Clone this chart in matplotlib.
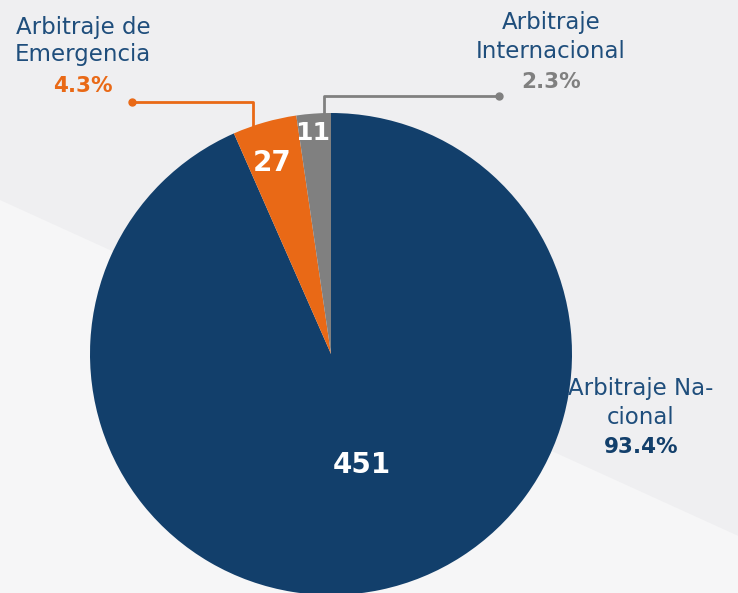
import matplotlib.pyplot as plt
from matplotlib.patches import Polygon

# data
categories = ['Arbitraje Na-\ncional', 'Arbitraje de\nEmergencia', 'Arbitraje\nInternacional']
counts = [451, 27, 11]
shares = [93.4, 4.3, 2.3]
colors = ['#123f6b', '#e96916', '#808080']

W, H = 738, 593
fig = plt.figure(figsize=(W / 100, H / 100), dpi=100)
fig.patch.set_facecolor('#efeff1')
ax = fig.add_axes([0, 0, 1, 1])

def py(y):
    # pixel row -> data y
    return H - y

# lighter diagonal band in the lower part of the background
ax.add_patch(Polygon([(0, py(200)), (W, py(200 + 0.455 * W)), (W, 0), (0, 0)],
                     closed=True, facecolor='#f6f6f7', edgecolor='none', zorder=0))

cx, cy, r = 331, py(354), 241
wedges, _ = ax.pie(shares, colors=colors, startangle=90, counterclock=False,
                   center=(cx, cy), radius=r, frame=True,
                   wedgeprops=dict(linewidth=0))
ax.set_xlim(0, W)
ax.set_ylim(0, H)
ax.set_aspect('equal')
ax.axis('off')

name_col = '#1f4e7c'
fnt = 'DejaVu Sans'
fs = 16.5

# labels
ax.text(83, py(41), categories[1], ha='center', va='center', fontsize=fs,
        color=name_col, family=fnt, linespacing=1.25)
ax.text(83, py(86), f'{shares[1]}%', ha='center', va='center', fontsize=15.5,
        color=colors[1], family=fnt, fontweight='heavy')

ax.text(551, py(37), categories[2], ha='center', va='center', fontsize=fs,
        color=name_col, family=fnt, linespacing=1.3)
ax.text(551, py(82), f'{shares[2]}%', ha='center', va='center', fontsize=15.5,
        color=colors[2], family=fnt, fontweight='heavy')

ax.text(641, py(403), categories[0], ha='center', va='center', fontsize=fs,
        color=name_col, family=fnt, linespacing=1.3)
ax.text(641, py(447), f'{shares[0]}%', ha='center', va='center', fontsize=15.5,
        color=colors[0], family=fnt, fontweight='heavy')

# leader lines
ax.plot([132, 253, 253], [py(102), py(102), py(128)], color=colors[1], lw=2, zorder=1)
ax.plot([132], [py(102)], 'o', color=colors[1], ms=5)
ax.plot([499, 324, 324], [py(96), py(96), py(116)], color=colors[2], lw=2, zorder=1)
ax.plot([499], [py(96)], 'o', color=colors[2], ms=5)

# counts inside wedges
ax.text(362, py(465), str(counts[0]), ha='center', va='center', fontsize=20,
        color='white', family=fnt, fontweight='heavy')
ax.text(272, py(163), str(counts[1]), ha='center', va='center', fontsize=20,
        color='white', family=fnt, fontweight='heavy')
ax.text(313, py(133), str(counts[2]), ha='center', va='center', fontsize=18,
        color='white', family=fnt, fontweight='heavy')

fig.savefig('out.png', dpi=100, facecolor=fig.get_facecolor())
